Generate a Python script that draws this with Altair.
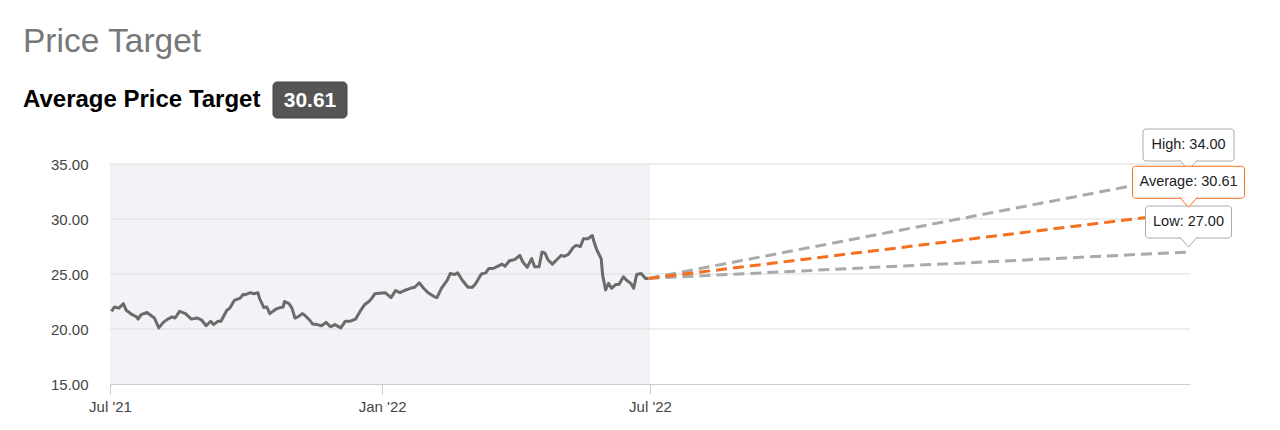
import altair as alt
import pandas as pd

FONT = "Liberation Sans"

title_text = "Price Target"
subtitle_text = "Average Price Target"
badge_text = "30.61"

price_dates = [
    "2021-07-02", "2021-07-04", "2021-07-07", "2021-07-10", "2021-07-12", "2021-07-16",
    "2021-07-19", "2021-07-20", "2021-07-22", "2021-07-26", "2021-07-28", "2021-07-31",
    "2021-08-03", "2021-08-06", "2021-08-09", "2021-08-12", "2021-08-14", "2021-08-17",
    "2021-08-21", "2021-08-25", "2021-08-29", "2021-09-01", "2021-09-04", "2021-09-07",
    "2021-09-09", "2021-09-12", "2021-09-14", "2021-09-18", "2021-09-20", "2021-09-23",
    "2021-09-27", "2021-09-29", "2021-09-30", "2021-10-04", "2021-10-06", "2021-10-09",
    "2021-10-10", "2021-10-13", "2021-10-15", "2021-10-17", "2021-10-21", "2021-10-24",
    "2021-10-26", "2021-10-27", "2021-10-30", "2021-11-01", "2021-11-03", "2021-11-05",
    "2021-11-08", "2021-11-10", "2021-11-13", "2021-11-15", "2021-11-18", "2021-11-21",
    "2021-11-24", "2021-11-27", "2021-11-30", "2021-12-04", "2021-12-07", "2021-12-10",
    "2021-12-14", "2021-12-17", "2021-12-20", "2021-12-23", "2021-12-25", "2021-12-27",
    "2021-12-30", "2022-01-03", "2022-01-07", "2022-01-10", "2022-01-13", "2022-01-16",
    "2022-01-20", "2022-01-23", "2022-01-26", "2022-01-29", "2022-02-01", "2022-02-05",
    "2022-02-07", "2022-02-10", "2022-02-14", "2022-02-16", "2022-02-19", "2022-02-21",
    "2022-02-24", "2022-02-28", "2022-03-03", "2022-03-05", "2022-03-09", "2022-03-12",
    "2022-03-14", "2022-03-17", "2022-03-20", "2022-03-23", "2022-03-25", "2022-03-28",
    "2022-03-31", "2022-04-01", "2022-04-04", "2022-04-06", "2022-04-09", "2022-04-12",
    "2022-04-14", "2022-04-17", "2022-04-19", "2022-04-21", "2022-04-23", "2022-04-26",
    "2022-04-29", "2022-05-02", "2022-05-04", "2022-05-07", "2022-05-10", "2022-05-12",
    "2022-05-15", "2022-05-17", "2022-05-20", "2022-05-23", "2022-05-24", "2022-05-26",
    "2022-05-29", "2022-05-30", "2022-06-01", "2022-06-03", "2022-06-05", "2022-06-08",
    "2022-06-10", "2022-06-13", "2022-06-15", "2022-06-18", "2022-06-20", "2022-06-22",
    "2022-06-25", "2022-06-28", "2022-06-30",
]
price_values = [
    21.6, 22.0, 21.9, 22.3, 21.7, 21.3,
    21.1, 20.9, 21.3, 21.5, 21.3, 21.0,
    20.1, 20.6, 20.9, 21.1, 21.0, 21.6,
    21.4, 20.9, 21.0, 20.8, 20.3, 20.7,
    20.4, 20.7, 20.7, 21.7, 21.9, 22.6,
    22.8, 23.15, 23.1, 23.3, 23.2, 23.3,
    22.8, 21.95, 22.0, 21.4, 21.8, 21.95,
    22.0, 22.5, 22.3, 21.9, 21.0, 21.1,
    21.4, 21.2, 20.8, 20.45, 20.4, 20.3,
    20.6, 20.2, 20.4, 20.1, 20.7, 20.7,
    20.9, 21.6, 22.2, 22.5, 22.8, 23.2,
    23.25, 23.3, 22.85, 23.5, 23.3, 23.5,
    23.7, 23.8, 24.2, 23.7, 23.3, 22.95,
    22.85, 23.7, 24.45, 25.05, 24.95, 25.1,
    24.45, 23.8, 23.8, 24.1, 25.0, 25.1,
    25.5, 25.5, 25.7, 25.9, 25.7, 26.2,
    26.3, 26.35, 26.7, 26.1, 25.6, 26.4,
    25.65, 25.65, 27.0, 26.9, 26.3, 25.9,
    26.3, 26.7, 26.6, 26.8, 27.4, 27.6,
    27.5, 28.2, 28.2, 28.5, 28.0, 27.2,
    26.4, 24.9, 23.55, 24.15, 23.7, 24.05,
    24.05, 24.75, 24.45, 24.15, 23.7, 24.95,
    25.05, 24.6, 24.6,
]

forecast_start_date = "2022-06-30"
forecast_end_date = "2023-06-30"
current_price = 24.6
target_names = ["High", "Low", "Average"]
target_values = [34.00, 27.00, 30.61]
target_colors = ["#aaaaaa", "#aaaaaa", "#f5701e"]
callout_widths = [91, 86, 112]

y_ticks = [15, 20, 25, 30, 35]
x_ticks = [(2021, 7, 1), (2022, 1, 1), (2022, 7, 1)]
x_domain = ["2021-07-01", "2023-07-01"]
history_start = "2021-07-01"
history_end = "2022-07-01"

W, H = 1080, 220

x_scale = alt.Scale(type="utc", domain=x_domain)
y_scale = alt.Scale(domain=[15, 35], nice=False, zero=False)

x_axis = alt.Axis(
    values=[alt.DateTime(year=y, month=m, date=d, utc=True) for (y, m, d) in x_ticks],
    labelExpr="utcFormat(datum.value, \"%b '%y\")", title=None, grid=False,
    labelFont=FONT, labelFontSize=15, labelColor="#444444", labelFlush=False,
    tickColor="#cccccc", tickSize=10, domainColor="#cccccc", labelPadding=5,
)
y_axis = alt.Axis(
    values=y_ticks, format=".2f", title=None, grid=False, domain=False, ticks=False,
    labelFont=FONT, labelFontSize=15, labelColor="#444444", labelPadding=22,
)

price_df = pd.DataFrame({"date": price_dates, "value": price_values})

# shaded history region
bg_df = pd.DataFrame({"x0": [history_start], "x1": [history_end], "y0": [y_ticks[0]], "y1": [y_ticks[-1]]})
background = alt.Chart(bg_df).mark_rect(color="#f2f3f6").encode(
    x=alt.X("x0:T", scale=x_scale, axis=x_axis),
    x2="x1:T",
    y=alt.Y("y0:Q", scale=y_scale, axis=y_axis),
    y2="y1:Q",
)

grid = alt.Chart(pd.DataFrame({"tick": y_ticks[1:]})).mark_rule(color="#dddddd", strokeWidth=1).encode(
    y=alt.Y("tick:Q", scale=y_scale, axis=y_axis)
)

price_line = alt.Chart(price_df).mark_line(color="#6b6b6b", strokeWidth=3, strokeJoin="round").encode(
    x=alt.X("date:T", scale=x_scale, axis=x_axis),
    y=alt.Y("value:Q", scale=y_scale, axis=y_axis),
)

layers = [background, grid, price_line]

# forecast dashed lines (gray first, orange on top)
order = sorted(range(len(target_names)), key=lambda i: target_colors[i] != "#aaaaaa")
for i in order:
    fdf = pd.DataFrame({
        "date": [forecast_start_date, forecast_end_date],
        "value": [current_price, target_values[i]],
    })
    layers.append(
        alt.Chart(fdf).mark_line(color=target_colors[i], strokeWidth=3, strokeDash=[11, 6]).encode(
            x=alt.X("date:T", scale=x_scale, axis=x_axis),
            y=alt.Y("value:Q", scale=y_scale, axis=y_axis),
        )
    )

# callouts
for i, name in enumerate(target_names):
    cdf = pd.DataFrame({
        "date": [forecast_end_date],
        "value": [target_values[i]],
        "label": [f"{name}: {target_values[i]:.2f}"],
    })
    w = callout_widths[i]
    base = alt.Chart(cdf)
    box = base.mark_rect(
        fill="white", stroke=target_colors[i], strokeWidth=1, cornerRadius=3,
        xOffset=-w / 2, x2Offset=w / 2, yOffset=-46, y2Offset=-14,
    ).encode(
        x=alt.X("date:T", scale=x_scale, axis=x_axis), x2="date:T",
        y=alt.Y("value:Q", scale=y_scale, axis=y_axis), y2="value:Q",
    )
    pointer = base.mark_point(
        shape="M-1,-0.12L0,1L1,-0.12", size=324, fill="white", fillOpacity=1,
        stroke=target_colors[i], strokeWidth=1, opacity=1, yOffset=-14,
    ).encode(
        x=alt.X("date:T", scale=x_scale, axis=x_axis),
        y=alt.Y("value:Q", scale=y_scale, axis=y_axis),
    )
    txt = base.mark_text(
        font=FONT, fontSize=14.5, color="#222222", align="center", baseline="middle", yOffset=-30,
    ).encode(
        x=alt.X("date:T", scale=x_scale, axis=x_axis),
        y=alt.Y("value:Q", scale=y_scale, axis=y_axis),
        text="label:N",
    )
    layers += [box, pointer, txt]

# headings
title = alt.Chart(pd.DataFrame({"t": [title_text]})).mark_text(
    font=FONT, fontSize=33.5, color="#777777", align="left", baseline="alphabetic"
).encode(x=alt.value(-87), y=alt.value(-112), text="t:N")

subtitle = alt.Chart(pd.DataFrame({"t": [subtitle_text]})).mark_text(
    font=FONT, fontSize=24, fontWeight="bold", color="#000000", align="left", baseline="alphabetic"
).encode(x=alt.value(-87), y=alt.value(-57), text="t:N")

badge_box = alt.Chart(pd.DataFrame({"t": [badge_text]})).mark_rect(
    fill="#555555", cornerRadius=4, stroke="#444444", strokeWidth=1
).encode(x=alt.value(163), x2=alt.value(237), y=alt.value(-82), y2=alt.value(-46))

badge_txt = alt.Chart(pd.DataFrame({"t": [badge_text]})).mark_text(
    font=FONT, fontSize=21, fontWeight="bold", color="white", align="center", baseline="middle"
).encode(x=alt.value(200), y=alt.value(-63), text="t:N")

layers += [title, subtitle, badge_box, badge_txt]

chart = alt.layer(*layers).properties(
    width=W, height=H,
    padding={"left": 102, "top": 156, "right": 70, "bottom": 30},
    autosize=alt.AutoSizeParams(type="none"),
).configure_view(stroke=None)

chart.save("out.html", embed_options={"renderer": "svg", "actions": False})
